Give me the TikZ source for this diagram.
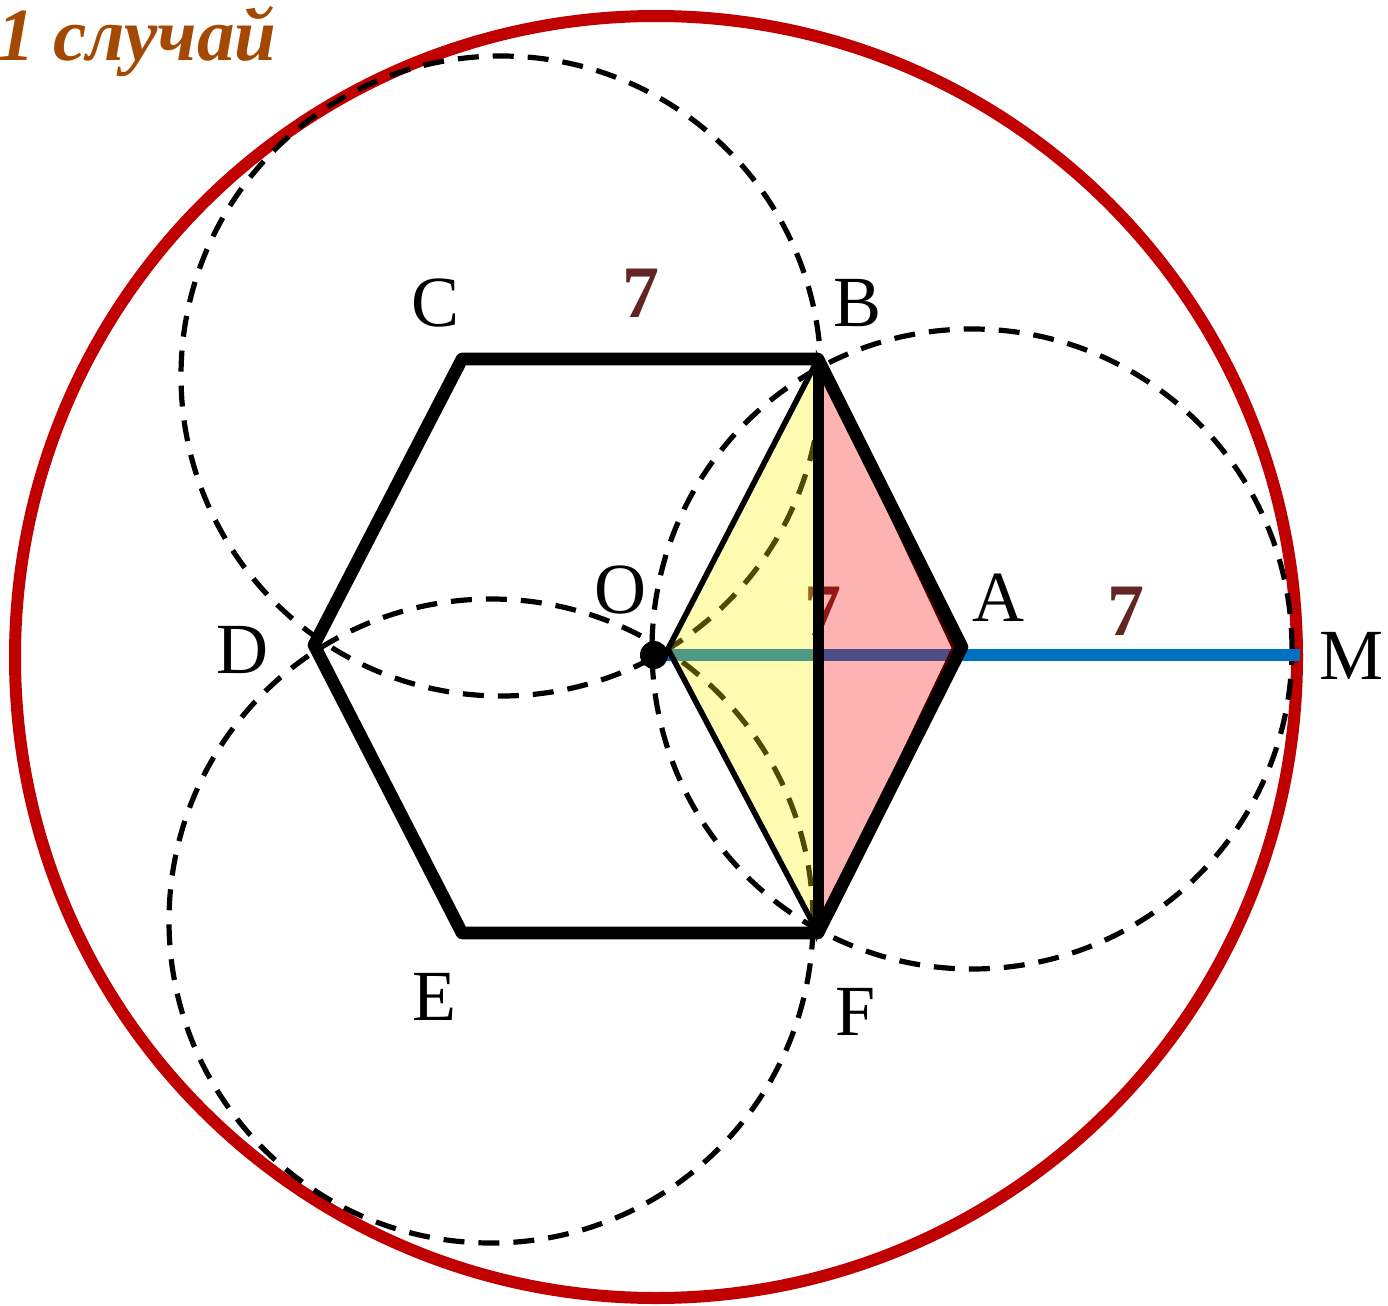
\documentclass[tikz,border=0pt]{standalone}
\usepackage{fontspec}
\setmainfont{Liberation Serif}
\definecolor{circred}{RGB}{192,0,0}
\definecolor{segblue}{RGB}{0,112,192}
\definecolor{sevenbrown}{RGB}{99,37,35}
\definecolor{titlebrown}{RGB}{163,73,4}
\definecolor{edgered}{RGB}{77,0,0}
\tikzset{
  dashcirc/.style={draw=black, line width=2.6pt, dash pattern=on 10.5pt off 7pt},
  hexline/.style={draw=black, line width=6.3pt, line join=round},
  lbl/.style={inner sep=0pt, font=\fontsize{36}{43}\selectfont},
  seven/.style={inner sep=0pt, text=sevenbrown, font=\fontsize{37}{44}\selectfont\bfseries},
}
\begin{document}
\begin{tikzpicture}[x=0.5pt,y=-0.5pt]
\useasboundingbox (0,0) rectangle (1388,1306);
% points
\coordinate (A) at (962,647);
\coordinate (B) at (818,359);
\coordinate (C) at (462,359);
\coordinate (D) at (314,645);
\coordinate (E) at (462,933);
\coordinate (F) at (818,933);
\coordinate (O) at (654,655);
\coordinate (Oy) at (668,649);
\coordinate (Ai) at (954,648);
\coordinate (M) at (1300,655);
% big red circle
\draw[circred, line width=6pt] (656,657) circle[radius=320.5pt];
% dashed circles
\draw[dashcirc] (501,376) circle[radius=160pt];
\draw[dashcirc] (491,921) circle[radius=161pt];
\draw[dashcirc] (972,649) circle[radius=160pt];
% blue segment
\draw[segblue, line width=6pt] (O) -- (M);
% length labels
\node[seven] (s1) at (641,293) {7};
\node[seven] (s2) at (823,611) {7};
\node[seven] (s3) at (1126,611) {7};
% triangles
\fill[yellow, fill opacity=0.31] (Oy) -- (B) -- (F) -- cycle;
\filldraw[draw=edgered, line width=2.2pt, fill=red, fill opacity=0.3] (B) -- (Ai) -- (F) -- cycle;
\draw[black, line width=2.8pt, line join=round] (B) -- (Oy) -- (F);
% hexagon
\draw[hexline] (A) -- (B) -- (C) -- (D) -- (E) -- (F) -- cycle;
\draw[black, line width=5.5pt] (B) -- (F);
% centre dot
\fill[black] (O) circle[radius=7pt];
% vertex labels
\node[lbl] (lA) at (998,598) {A};
\node[lbl] (lB) at (858,303) {B};
\node[lbl] (lC) at (436,303) {C};
\node[lbl] (lD) at (242,650) {D};
\node[lbl] (lE) at (434,997) {E};
\node[lbl] (lF) at (856,1012) {F};
\node[lbl] (lO) at (620,590) {O};
\node[lbl] (lM) at (1351,656) {M};
% title
\node[inner sep=0pt, anchor=base west, text=titlebrown, font=\fontsize{37.5}{44}\selectfont\bfseries\itshape] (title) at (-3,61) {1 случай};
\end{tikzpicture}
\end{document}
